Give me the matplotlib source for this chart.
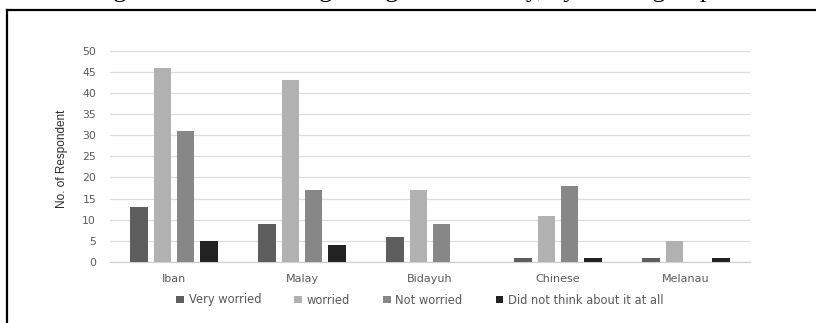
import matplotlib
matplotlib.use("Agg")
import matplotlib.pyplot as plt
from matplotlib.lines import Line2D
import numpy as np

# Survey responses by ethnic group
groups = ["Iban", "Malay", "Bidayuh", "Chinese", "Melanau"]
series_names = ["Very worried", "worried", "Not worried", "Did not think about it at all"]
very_worried = [13, 9, 6, 1, 1]
worried = [46, 43, 17, 11, 5]
not_worried = [31, 17, 9, 18, 0]
did_not_think = [5, 4, 0, 1, 1]
y_ticks = [0, 5, 10, 15, 20, 25, 30, 35, 40, 45, 50]

series = [very_worried, worried, not_worried, did_not_think]
colors = ["#5e5e5e", "#b1b1b1", "#878787", "#222222"]

W, H = 816, 323
fig = plt.figure(figsize=(W / 100, H / 100), dpi=100)

# caption running off the top edge of the page
fig.text(92 / W, 1 + 3.4 / H, "Figure 4.3: Worries regarding the disability, by ethnic group",
         family="Liberation Serif", fontsize=18.6, ha="left", va="baseline", color="black")

# frame around the chart (left and top edges visible)
fig.add_artist(Line2D([7 / W, 7 / W], [0, 1 - 9.5 / H], transform=fig.transFigure,
                      color="black", lw=1.6))
fig.add_artist(Line2D([7 / W, 1], [1 - 9.5 / H, 1 - 9.5 / H], transform=fig.transFigure,
                      color="black", lw=1.6))

left, right, top, bottom = 110, 750, 50.7, 262
ax = fig.add_axes([left / W, (H - bottom) / H, (right - left) / W, (bottom - top) / H])

x = np.arange(len(groups))
pitch = 0.18
width = 0.14
for i, (vals, col, name) in enumerate(zip(series, colors, series_names)):
    ax.bar(x + (i - 1.5) * pitch, vals, width=width, color=col, label=name, zorder=3)

ax.set_xlim(-0.5, len(groups) - 0.5)
ax.set_ylim(0, 50)
ax.set_yticks(y_ticks)
ax.set_xticks(x)
ax.set_xticklabels(groups)
ax.grid(axis="y", color="#dcdcdc", lw=0.9, zorder=0)
for s in ["left", "right", "top"]:
    ax.spines[s].set_visible(False)
ax.spines["bottom"].set_color("#d0d0d0")
ax.spines["bottom"].set_linewidth(0.9)
ax.tick_params(axis="y", length=0, pad=10, labelsize=7.8, labelcolor="#5a5a5a")
ax.tick_params(axis="x", length=0, pad=9, labelsize=8, labelcolor="#5a5a5a")
for lbl in ax.get_xticklabels() + ax.get_yticklabels():
    lbl.set_family("DejaVu Sans")

fig.text(62 / W, 1 - 159 / H, "No. of Respondent", rotation=90, ha="center", va="center",
         family=["Liberation Sans Narrow", "Liberation Sans", "DejaVu Sans"], fontsize=8.5,
         color="#2a2a2a")

leg = fig.legend(loc="center", bbox_to_anchor=(420 / W, 1 - 300 / H), ncol=4, frameon=False,
                 prop={"family": "DejaVu Sans", "size": 8.3}, handlelength=0.65, handleheight=0.65,
                 handletextpad=0.4, columnspacing=2.9, borderaxespad=0)
for t in leg.get_texts():
    t.set_color("#5a5a5a")

fig.savefig("out.png", dpi=100)
